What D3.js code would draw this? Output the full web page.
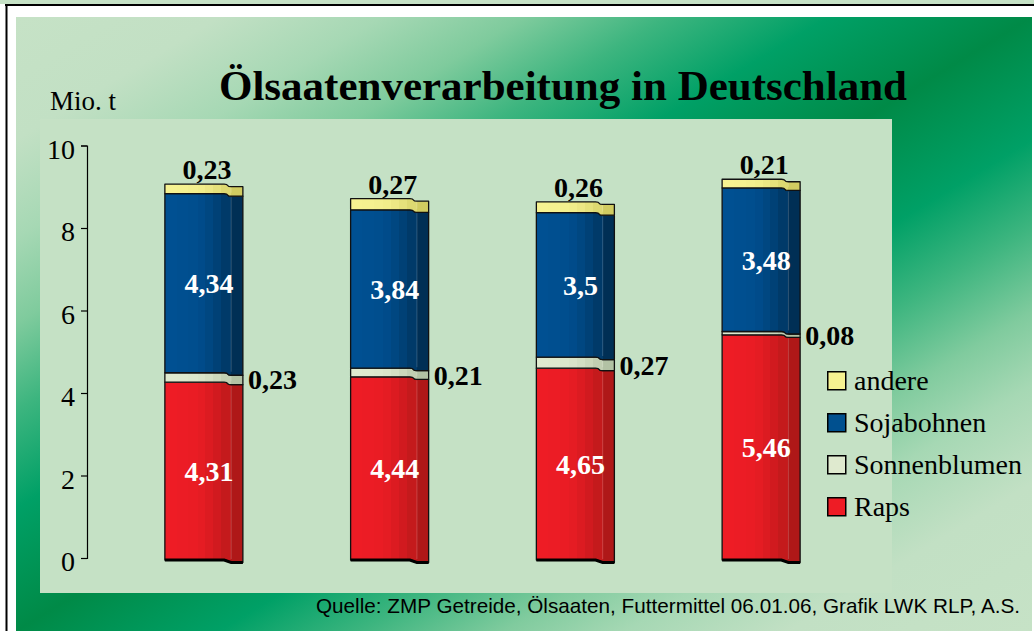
<!DOCTYPE html>
<html>
<head>
<meta charset="utf-8">
<script src="https://cdn.jsdelivr.net/npm/d3@7"></script>
<style>
    html, body { margin: 0; padding: 0; background: #fff; }
    svg { display: block; }
</style>
</head>
<body>
<svg id="chart" width="1034" height="631"></svg>
<script>
// Ölsaatenverarbeitung in Deutschland (Mio. t) - four unlabeled years
const categories = ['1', '2', '3', '4'];
const raps = [4.31, 4.44, 4.65, 5.46];
const sonnenblumen = [0.23, 0.21, 0.27, 0.08];
const sojabohnen = [4.34, 3.84, 3.5, 3.48];
const andere = [0.23, 0.27, 0.26, 0.21];
const seriesKeys = ['Raps', 'Sonnenblumen', 'Sojabohnen', 'andere'];
const legendOrder = ['andere', 'Sojabohnen', 'Sonnenblumen', 'Raps'];
const yTicks = [0, 2, 4, 6, 8, 10];

const SERIF = "'Liberation Serif', 'Times New Roman', serif";
const SANS = "'Liberation Sans', Arial, sans-serif";

// light / dark tones for the banded "cylinder" look
const palette = {
    Raps: { light: '#ee1c25', dark: '#961713', swatch: '#ee1c25' },
    Sonnenblumen: { light: '#dfeacf', dark: '#a1b293', swatch: '#dfeacf' },
    Sojabohnen: { light: '#005092', dark: '#00223d', swatch: '#00508f' },
    andere: { light: '#f6f291', dark: '#c2bd4e', swatch: '#f6f291' }
};

const svg = d3.select('#chart');
const defs = svg.append('defs');

// background gradient: light corners, dark diagonal band
const bg = defs.append('linearGradient')
    .attr('id', 'bgGrad')
    .attr('x1', 0).attr('y1', 0).attr('x2', 1).attr('y2', 1);
[
    [0, '#c6e2c6'], [0.1, '#c2e0c4'], [0.18, '#a6d8b4'], [0.25, '#7fcb9d'],
    [0.32, '#3db57f'], [0.4, '#00a066'], [0.5, '#008a47'], [0.6, '#00a066'],
    [0.67, '#3db57f'], [0.74, '#80cb9e'], [0.8, '#a6d8b4'], [0.88, '#c2e0c4'], [1, '#c6e2c6']
].forEach(([o, c]) => bg.append('stop').attr('offset', o).attr('stop-color', c));

// banded horizontal gradients for the bar segments
const bandPos = [0, 0.15, 0.3, 0.42, 0.52, 0.62, 0.72, 0.85];
const bandMix = [0, 0.02, 0.05, 0.1, 0.2, 0.33, 0.48, 0.72];
seriesKeys.forEach(key => {
    const mix = d3.interpolateRgb(palette[key].light, palette[key].dark);
    const g = defs.append('linearGradient')
        .attr('id', 'grad-' + key)
        .attr('x1', 0).attr('y1', 0).attr('x2', 1).attr('y2', 0);
    bandPos.forEach((p, i) => {
        const end = i < bandPos.length - 1 ? bandPos[i + 1] : 1;
        g.append('stop').attr('offset', p).attr('stop-color', mix(bandMix[i]));
        g.append('stop').attr('offset', end).attr('stop-color', mix(bandMix[i]));
    });
});

// frame
svg.append('rect').attr('x', 0).attr('y', 0).attr('width', 1034).attr('height', 4).attr('fill', '#c6e2c6');
svg.append('rect')
    .attr('x', 16).attr('y', 17)
    .attr('width', 1016).attr('height', 614)
    .attr('fill', 'url(#bgGrad)');
svg.append('line').attr('x1', 5).attr('x2', 1034).attr('y1', 5).attr('y2', 5)
    .attr('stroke', '#000').attr('stroke-width', 2);
svg.append('line').attr('x1', 6.5).attr('x2', 6.5).attr('y1', 4).attr('y2', 631)
    .attr('stroke', '#000').attr('stroke-width', 2);

// plot panel
svg.append('rect')
    .attr('x', 40).attr('y', 119)
    .attr('width', 852).attr('height', 474)
    .attr('fill', '#c5e1c5');

// title
svg.append('text')
    .attr('x', 563).attr('y', 100)
    .attr('text-anchor', 'middle')
    .attr('font-family', SERIF)
    .attr('font-weight', 'bold')
    .attr('font-size', 43)
    .text('Ölsaatenverarbeitung in Deutschland');

// unit label
svg.append('text')
    .attr('x', 50).attr('y', 110)
    .attr('font-family', SERIF)
    .attr('font-size', 27)
    .text('Mio. t');

// scales
const x = d3.scaleBand()
    .domain(categories)
    .range([111, 854])
    .paddingInner(0.58)
    .paddingOuter(0.29);

const y = d3.scaleLinear()
    .domain([0, 10])
    .range([558, 145.5]);

// y axis
const yAxis = d3.axisLeft(y)
    .tickValues(yTicks)
    .tickSize(6)
    .tickPadding(6)
    .tickFormat(d => d);

const axisG = svg.append('g')
    .attr('transform', 'translate(87,0)')
    .call(yAxis);
axisG.selectAll('path, line').attr('stroke', '#000').attr('stroke-width', 1.2);
axisG.selectAll('text')
    .attr('font-family', SERIF)
    .attr('font-size', 28)
    .attr('fill', '#000')
    .attr('dy', '0.45em');

// stacked data
const rows = categories.map((c, i) => ({
    cat: c,
    Raps: raps[i],
    Sonnenblumen: sonnenblumen[i],
    Sojabohnen: sojabohnen[i],
    andere: andere[i]
}));
const stacked = d3.stack().keys(seriesKeys)(rows);

const fmt = v => String(+v.toFixed(2)).replace('.', ',');
const OFF = 2;      // slight downward shift of the 3D bar body
const NOTCH = 2.5;  // drop of the right-hand part of each edge

function segmentPath(x0, w, yTop, yBot) {
    const xa = x0 + w * 0.76, xb = x0 + w * 0.85, x1 = x0 + w;
    return `M${x0},${yTop}H${xa}Q${xa + 3},${yTop} ${(xa + xb) / 2},${yTop + NOTCH / 2}` +
        `T${xb},${yTop + NOTCH}H${x1}V${yBot + NOTCH}` +
        `H${xb}Q${xb - 3},${yBot + NOTCH} ${(xa + xb) / 2},${yBot + NOTCH / 2}T${xa},${yBot}H${x0}Z`;
}

const bars = svg.append('g').attr('class', 'bars');

stacked.forEach(layer => {
    const key = layer.key;
    const g = bars.append('g').attr('class', 'series-' + key);

    g.selectAll('path')
        .data(layer)
        .join('path')
        .attr('d', d => segmentPath(x(d.data.cat), x.bandwidth(), y(d[1]) + OFF, y(d[0]) + OFF))
        .attr('fill', `url(#grad-${key})`)
        .attr('stroke', '#111')
        .attr('stroke-width', 1.3)
        .attr('stroke-linejoin', 'round');

    // faint highlight line where the darker side strip starts
    g.selectAll('line.hl')
        .data(layer)
        .join('line')
        .attr('class', 'hl')
        .attr('x1', d => x(d.data.cat) + x.bandwidth() * 0.85)
        .attr('x2', d => x(d.data.cat) + x.bandwidth() * 0.85)
        .attr('y1', d => y(d[1]) + OFF + NOTCH + 1)
        .attr('y2', d => y(d[0]) + OFF - 1)
        .attr('stroke', '#fff')
        .attr('stroke-opacity', 0.18)
        .attr('stroke-width', 1);
});

// heavy base line under each bar
bars.selectAll('path.base')
    .data(categories)
    .join('path')
    .attr('class', 'base')
    .attr('d', c => {
        const x0 = x(c), w = x.bandwidth(), b = y(0) + OFF;
        return `M${x0},${b}H${x0 + w * 0.76}L${x0 + w * 0.85},${b + NOTCH}H${x0 + w}`;
    })
    .attr('fill', 'none')
    .attr('stroke', '#000')
    .attr('stroke-width', 3);

// value labels
const labels = svg.append('g')
    .attr('font-family', SERIF)
    .attr('font-weight', 'bold')
    .attr('font-size', 28);

stacked.forEach(layer => {
    const key = layer.key;
    const sel = labels.selectAll(null).data(layer).join('text').text(d => fmt(d[1] - d[0]));
    if (key === 'Raps' || key === 'Sojabohnen') {
        sel.attr('fill', '#fff')
            .attr('text-anchor', 'middle')
            .attr('x', d => x(d.data.cat) + x.bandwidth() / 2 + 5)
            .attr('y', d => (y(d[0]) + y(d[1])) / 2 + OFF + 10);
    } else if (key === 'Sonnenblumen') {
        sel.attr('fill', '#000')
            .attr('text-anchor', 'start')
            .attr('x', d => x(d.data.cat) + x.bandwidth() + 5)
            .attr('y', d => (y(d[0]) + y(d[1])) / 2 + OFF + 12);
    } else {
        sel.attr('fill', '#000')
            .attr('text-anchor', 'middle')
            .attr('x', d => x(d.data.cat) + x.bandwidth() / 2 + 3)
            .attr('y', d => y(d[1]) + OFF - 5);
    }
});

// legend
const legend = svg.append('g').attr('transform', 'translate(827,371)');
const item = legend.selectAll('g')
    .data(legendOrder)
    .join('g')
    .attr('transform', (d, i) => `translate(0,${i * 42})`);
item.append('rect')
    .attr('x', 0.75).attr('y', 0.75)
    .attr('width', 18).attr('height', 18)
    .attr('fill', d => palette[d].swatch)
    .attr('stroke', '#000')
    .attr('stroke-width', 1.5);
item.append('text')
    .attr('x', 27).attr('y', 19)
    .attr('font-family', SERIF)
    .attr('font-size', 28)
    .text(d => d);

// source
svg.append('text')
    .attr('x', 1020).attr('y', 613)
    .attr('text-anchor', 'end')
    .attr('font-family', SANS)
    .attr('font-size', 21)
    .attr('textLength', 704)
    .attr('lengthAdjust', 'spacingAndGlyphs')
    .text('Quelle: ZMP Getreide, Ölsaaten, Futtermittel 06.01.06, Grafik LWK RLP, A.S.');
</script>
</body>
</html>
